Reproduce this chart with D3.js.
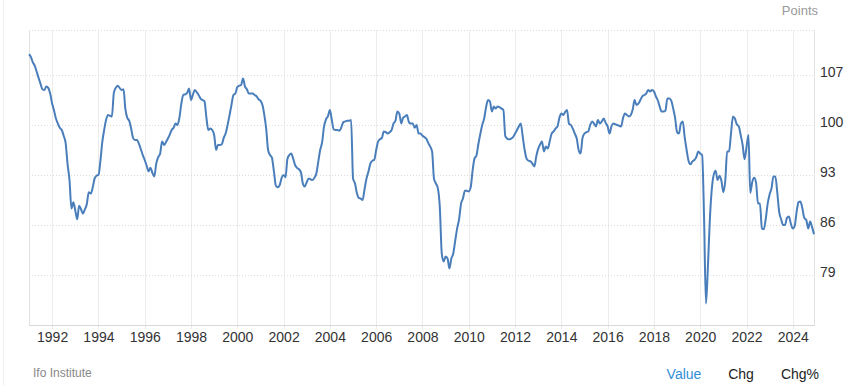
<!DOCTYPE html>
<html>
<head>
<meta charset="utf-8">
<script src="https://cdn.jsdelivr.net/npm/d3@7"></script>
<style>
  html, body { margin: 0; padding: 0; background: #fff; }
  svg { display: block; font-family: Arial, "Liberation Sans", sans-serif; }
</style>
</head>
<body>
<svg id="chart" width="850" height="386"></svg>
<script>
// Ifo Business Climate, monthly, Jan 1991 – Dec 2024 (points)
const startYear = 1991;
const values1990s = [
  109.9,109.5,108.8,108.3,107.5,106.6,105.8,105.0,104.9,105.4,105.2,104.4, // 1991
  103.0,102.0,100.9,100.2,99.6,99.3,98.5,97.5,94.5,92.3,88.3,89.2,          // 1992
  88.0,86.8,88.7,88.2,87.6,88.2,88.9,90.6,90.4,91.2,92.5,92.9,             // 1993
  93.0,95.0,97.5,99.3,100.7,101.4,101.3,101.2,104.5,105.2,105.5,105.2,     // 1994
  104.9,105.0,102.3,101.0,100.6,99.5,98.2,97.9,97.9,97.4,96.6,95.8,        // 1995
  95.1,94.3,93.5,94.0,93.3,92.8,94.6,95.5,96.0,97.7,97.2,97.6,             // 1996
  98.1,98.7,99.3,99.6,100.2,100.0,101.0,103.0,104.2,104.3,104.5,105.1,     // 1997
  103.5,104.3,104.9,104.6,104.2,103.7,103.5,103.3,101.0,99.3,99.5,99.3,    // 1998
  98.6,96.5,97.2,97.2,97.3,98.2,98.8,100.0,101.4,102.8,104.2,104.4         // 1999
];
const values2000s = [
  105.3,105.5,105.6,106.5,105.4,105.0,104.4,104.4,104.4,104.2,104.0,103.6, // 2000
  103.4,102.8,101.5,99.5,96.5,95.8,95.4,93.5,91.5,91.3,91.6,92.6,          // 2001
  93.0,92.7,95.2,95.8,96.0,95.3,94.4,94.0,93.8,93.4,91.8,91.4,             // 2002
  92.0,92.5,92.4,92.3,92.6,93.2,94.8,96.5,97.6,99.8,100.8,101.2,           // 2003
  102.1,100.7,99.4,99.3,99.3,99.2,99.7,100.4,100.5,100.6,100.6,100.7,      // 2004
  92.5,91.8,90.5,89.8,89.7,89.5,91.0,92.5,93.5,94.6,95.0,95.1,             // 2005
  96.5,97.7,98.0,98.2,99.1,99.0,98.8,99.0,99.3,100.2,100.6,101.9,          // 2006
  101.6,100.2,101.0,101.2,101.4,100.4,100.2,100.2,99.6,100.0,98.8,98.8,    // 2007
  98.5,98.3,98.1,97.5,97.0,96.3,92.5,91.8,91.1,88.5,82.0,80.9,             // 2008
  81.6,81.3,79.9,81.3,82.0,83.8,85.5,86.8,89.0,89.7,90.8,90.8              // 2009
];
const values2010s = [
  90.7,91.3,93.5,95.3,95.7,97.3,98.7,100.0,100.9,102.5,103.5,103.3,        // 2010
  101.9,102.6,102.3,102.6,102.5,102.3,102.1,98.4,98.1,98.0,98.1,98.3,      // 2011
  98.8,99.3,99.8,100.2,98.4,96.5,95.3,95.0,94.9,94.6,94.2,95.6,            // 2012
  96.7,97.3,97.7,96.3,97.0,96.7,97.7,98.8,99.1,99.5,99.8,101.0,            // 2013
  101.6,101.4,101.8,102.1,100.2,100.0,99.5,98.8,98.1,96.5,96.0,98.2,       // 2014
  98.8,99.0,99.1,100.0,100.5,100.2,99.8,100.7,100.2,100.5,100.9,100.3,     // 2015
  99.8,98.8,99.8,100.2,100.1,100.0,99.9,99.8,101.0,101.6,101.4,101.2,      // 2016
  101.4,102.2,103.5,102.8,103.0,103.5,104.0,104.2,104.4,104.9,104.7,104.9, // 2017
  104.7,104.0,103.5,102.6,101.9,101.9,102.0,103.7,103.7,103.4,102.3,101.0, // 2018
  99.0,98.8,100.2,100.5,98.3,96.5,95.0,94.5,94.9,95.1,95.5,96.3            // 2019
];
const values2020s = [
  96.0,95.8,87.5,75.0,80.0,86.7,90.9,93.0,93.6,92.3,92.9,92.2,             // 2020
  90.6,92.3,96.3,96.3,98.8,101.2,100.9,100.1,99.8,98.6,97.2,95.2,          // 2021
  96.9,98.6,90.5,92.0,92.6,91.9,89.0,89.0,85.5,85.4,86.9,89.0,             // 2022
  90.3,91.2,92.8,92.8,90.6,87.8,86.8,86.0,86.0,87.0,87.2,86.2,             // 2023
  85.5,85.9,87.8,89.2,89.3,88.3,87.0,86.7,85.5,86.5,85.7,84.7              // 2024
];
const yTicks = [79, 86, 93, 100, 107];
const xTickYears = d3.range(1992, 2025, 2);
const sourceLabel = "Ifo Institute";
const unitLabel = "Points";
const tabLabels = ["Value", "Chg", "Chg%"];

const values = [].concat(values1990s, values2000s, values2010s, values2020s);
const data = values.map((v, i) => ({ date: new Date(startYear, i, 1), value: v }));

const svg = d3.select("#chart");
const plotLeft = 29, plotRight = 814, plotTop = 30, plotBottom = 325;

const x = d3.scaleTime()
  .domain([data[0].date, data[data.length - 1].date])
  .range([plotLeft, plotRight]);
const y = d3.scaleLinear()
  .domain([72, 113.3])
  .range([plotBottom, plotTop]);

// outer faint border on left
svg.append("line").attr("x1", 3.5).attr("x2", 3.5).attr("y1", 0).attr("y2", 386)
  .attr("stroke", "#f0f0f0").attr("stroke-width", 1);

// vertical grid lines
svg.append("g").selectAll("line").data(xTickYears).join("line")
  .attr("x1", d => Math.round(x(new Date(d, 0, 1))) + 0.5)
  .attr("x2", d => Math.round(x(new Date(d, 0, 1))) + 0.5)
  .attr("y1", plotTop).attr("y2", plotBottom + 4)
  .attr("stroke", "#ececec").attr("stroke-width", 1);

// horizontal grid lines (dotted)
svg.append("g").selectAll("line").data(yTicks.concat([113.3])).join("line")
  .attr("x1", plotLeft).attr("x2", plotRight)
  .attr("y1", d => Math.round(y(d)) + 0.5)
  .attr("y2", d => Math.round(y(d)) + 0.5)
  .attr("stroke", "#dcdcdc").attr("stroke-width", 1)
  .attr("stroke-dasharray", "1,2");

// frame: left, right, bottom
svg.append("line").attr("x1", plotLeft + 0.5).attr("x2", plotLeft + 0.5).attr("y1", plotTop).attr("y2", plotBottom)
  .attr("stroke", "#e2e2e2");
svg.append("line").attr("x1", plotRight + 0.5).attr("x2", plotRight + 0.5).attr("y1", plotTop).attr("y2", plotBottom)
  .attr("stroke", "#e2e2e2");
svg.append("line").attr("x1", plotLeft).attr("x2", plotRight + 1).attr("y1", plotBottom + 0.5).attr("y2", plotBottom + 0.5)
  .attr("stroke", "#d8d8d8");

// x-axis labels
const xAxis = d3.axisBottom(x)
  .tickValues(xTickYears.map(yr => new Date(yr, 0, 1)))
  .tickFormat(d3.timeFormat("%Y"))
  .tickSize(0).tickPadding(0);
const gx = svg.append("g").attr("transform", `translate(0,${plotBottom})`).call(xAxis);
gx.select(".domain").remove();
gx.selectAll("text")
  .attr("y", 7).attr("dy", "0.71em")
  .attr("font-size", 14).attr("fill", "#333")
  .attr("font-family", "Arial, 'Liberation Sans', sans-serif");

// y-axis labels (right)
const yAxis = d3.axisRight(y).tickValues(yTicks).tickSize(0).tickPadding(0);
const gy = svg.append("g").attr("transform", `translate(${plotRight + 6},0)`).call(yAxis);
gy.select(".domain").remove();
gy.selectAll("text")
  .attr("x", 0).attr("dy", "0.1em")
  .attr("font-size", 14).attr("fill", "#333")
  .attr("font-family", "Arial, 'Liberation Sans', sans-serif");

// the line
const line = d3.line()
  .x(d => x(d.date))
  .y(d => y(d.value))
  .curve(d3.curveMonotoneX);
svg.append("path").datum(data)
  .attr("d", line)
  .attr("fill", "none")
  .attr("stroke", "#4a7ebb")
  .attr("stroke-width", 2)
  .attr("stroke-linejoin", "round");

// texts
svg.append("text").attr("x", 818).attr("y", 15).attr("text-anchor", "end")
  .attr("font-size", 13).attr("fill", "#999").text(unitLabel);
svg.append("text").attr("x", 33).attr("y", 377)
  .attr("font-size", 12).attr("fill", "#888").text(sourceLabel);

const tabX = [684, 741, 800];
const tabColors = ["#2f8fd8", "#222", "#222"];
svg.append("g").selectAll("text").data(tabLabels).join("text")
  .attr("x", (d, i) => tabX[i]).attr("y", 379)
  .attr("text-anchor", "middle")
  .attr("font-size", 14)
  .attr("fill", (d, i) => tabColors[i])
  .text(d => d);
</script>
</body>
</html>
